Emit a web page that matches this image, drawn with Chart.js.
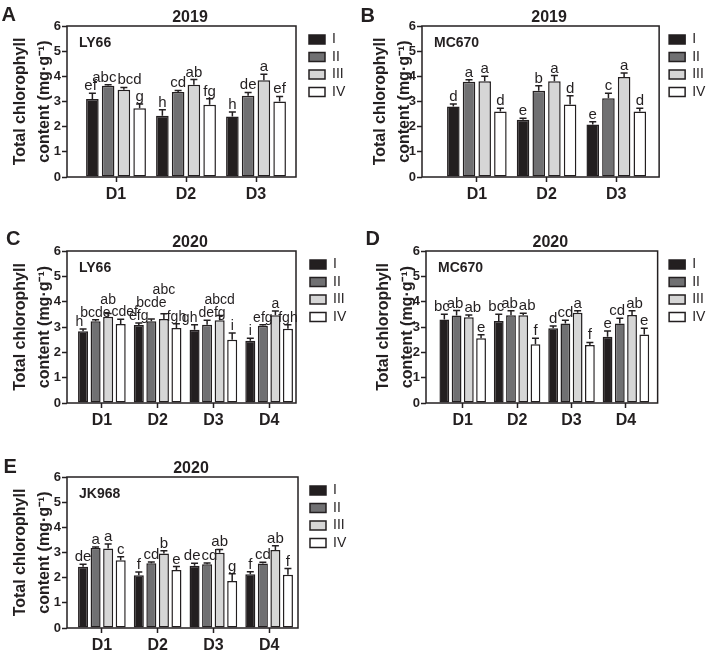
<!DOCTYPE html>
<html>
<head>
<meta charset="utf-8">
<script src="https://cdn.jsdelivr.net/npm/chart.js@4.4.1/dist/chart.umd.min.js"></script>
<style>
  body { margin: 0; background: #fff; }
  #figure { position: relative; width: 710px; height: 658px; font-family: "Liberation Sans", Arial, sans-serif; }
  #figure canvas { position: absolute; }
  .tag { position: absolute; font-weight: bold; font-size: 20px; line-height: 20px; color: #231f20; }
</style>
</head>
<body>
<div id="figure">
  <canvas id="chartA" width="355" height="207" style="left:0;top:0"></canvas>
  <canvas id="chartB" width="355" height="207" style="left:355px;top:0"></canvas>
  <canvas id="chartC" width="355" height="218" style="left:0;top:215px"></canvas>
  <canvas id="chartD" width="355" height="218" style="left:355px;top:215px"></canvas>
  <canvas id="chartE" width="355" height="228" style="left:0;top:430px"></canvas>
  <div class="tag" style="left:1.5px;top:3.5px">A</div>
  <div class="tag" style="left:360.5px;top:4.5px">B</div>
  <div class="tag" style="left:6px;top:227.5px">C</div>
  <div class="tag" style="left:365.5px;top:227.5px">D</div>
  <div class="tag" style="left:3.5px;top:455.5px">E</div>
</div>
<script>
const seriesNames = ['I', 'II', 'III', 'IV'];
const groups2019 = ['D1', 'D2', 'D3'];
const groups2020 = ['D1', 'D2', 'D3', 'D4'];

// A: LY66, 2019  (rows = I, II, III, IV)
const meanA = [[3.10, 2.43, 2.40], [3.63, 3.38, 3.23], [3.47, 3.67, 3.84], [2.73, 2.87, 3.00]];
const sdA = [[0.23, 0.24, 0.18], [0.04, 0.06, 0.13], [0.09, 0.20, 0.24], [0.17, 0.24, 0.20]];
const letterA = [['ef', 'h', 'h'], ['abc', 'cd', 'de'], ['bcd', 'ab', 'a'], ['g', 'fg', 'ef']];

// B: MC670, 2019
const meanB = [[2.80, 2.27, 2.09], [3.78, 3.43, 3.13], [3.80, 3.80, 3.97], [2.60, 2.88, 2.60]];
const sdB = [[0.10, 0.06, 0.11], [0.08, 0.20, 0.20], [0.20, 0.23, 0.16], [0.13, 0.35, 0.13]];
const letterB = [['d', 'e', 'e'], ['a', 'b', 'c'], ['a', 'a', 'a'], ['d', 'd', 'd']];

// C: LY66, 2020
const meanC = [[2.83, 3.08, 2.89, 2.46], [3.23, 3.23, 3.09, 3.05], [3.40, 3.32, 3.27, 3.46], [3.12, 2.96, 2.50, 2.93]];
const sdC = [[0.09, 0.08, 0.20, 0.10], [0.06, 0.09, 0.18, 0.04], [0.13, 0.20, 0.18, 0.17], [0.19, 0.17, 0.26, 0.16]];
const letterC = [['h', 'efg', 'gh', 'i'], ['bcde', 'bcde', 'defg', 'efg'], ['ab', 'abc', 'abcd', 'a'], ['cdef', 'fgh', 'i', 'fgh']];

// D: MC670, 2020
const meanD = [[3.30, 3.24, 2.95, 2.62], [3.45, 3.46, 3.14, 3.14], [3.38, 3.46, 3.56, 3.47], [2.56, 2.32, 2.29, 2.70]];
const sdD = [[0.20, 0.26, 0.09, 0.22], [0.20, 0.18, 0.13, 0.21], [0.09, 0.08, 0.08, 0.17], [0.13, 0.24, 0.10, 0.25]];
const letterD = [['bc', 'bc', 'd', 'e'], ['ab', 'ab', 'cd', 'cd'], ['ab', 'ab', 'a', 'ab'], ['e', 'f', 'f', 'e']];

// E: JK968, 2020
const meanE = [[2.43, 2.10, 2.47, 2.14], [3.18, 2.57, 2.53, 2.56], [3.16, 2.96, 2.99, 3.10], [2.69, 2.30, 1.87, 2.12]];
const sdE = [[0.10, 0.13, 0.10, 0.10], [0.04, 0.05, 0.05, 0.05], [0.18, 0.11, 0.13, 0.17], [0.14, 0.14, 0.29, 0.24]];
const letterE = [['de', 'f', 'de', 'f'], ['a', 'cd', 'cd', 'cd'], ['a', 'b', 'ab', 'ab'], ['c', 'e', 'g', 'f']];

const INK = '#231f20';
const FILLS = ['#231f20', '#707072', '#d6d6d6', '#ffffff'];

Chart.defaults.font.family = '"Liberation Sans", Arial, sans-serif';

// GraphPad leaves uneven space at the ends of the category axis
const categoryInset = {
    id: 'categoryInset',
    afterLayout(chart, args, opts) {
        const x = chart.scales.x;
        x._startPixel = x.left + opts.left;
        x._endPixel = x.right + opts.right;
        x._length = x._endPixel - x._startPixel;
    }
};

function overlapX(p, q) {
    return Math.min(p.x + p.w / 2, q.x + q.w / 2) - Math.max(p.x - p.w / 2, q.x - q.w / 2);
}
function overlapY(p, q) {
    return Math.min(p.base + p.desc, q.base + q.desc) - Math.max(p.base - p.asc, q.base - q.asc);
}

// upper error bars plus significance letters
const errorBars = {
    id: 'errorBars',
    afterDatasetsDraw(chart, args, opts) {
        const { ctx } = chart;
        const y = chart.scales.y;
        const datasets = chart.data.datasets;
        ctx.save();
        ctx.strokeStyle = INK;
        ctx.fillStyle = INK;
        ctx.lineWidth = 1.5;
        ctx.font = opts.letterSize + 'px "Liberation Sans"';
        ctx.textAlign = 'center';
        ctx.textBaseline = 'alphabetic';

        const nGroups = chart.data.labels.length;
        for (let j = 0; j < nGroups; j++) {
            const placed = [];
            datasets.forEach((ds, i) => {
                const bar = chart.getDatasetMeta(i).data[j];
                const top = y.getPixelForValue(ds.data[j] + ds.sd[j]);
                ctx.beginPath();
                ctx.moveTo(bar.x, bar.y);
                ctx.lineTo(bar.x, top);
                ctx.moveTo(bar.x - 3.5, top);
                ctx.lineTo(bar.x + 3.5, top);
                ctx.stroke();

                // keep neighbouring letters from sitting on each other
                const m = ctx.measureText(ds.letters[j]);
                const lab = { text: ds.letters[j], x: bar.x, w: m.width, asc: m.actualBoundingBoxAscent, desc: m.actualBoundingBoxDescent, base: top - 3 };
                for (let k = 0; k < 6; k++) {
                    const hit = placed.find(p => overlapX(p, lab) > 1 && overlapY(p, lab) > 1);
                    if (!hit) break;
                    const ox = overlapX(hit, lab);
                    if (ox <= 12) {
                        const shift = ox / 2 + 0.5;
                        hit.x -= shift;
                        lab.x += shift;
                    } else {
                        lab.base = hit.base - hit.asc - 2 - lab.desc;
                    }
                }
                placed.push(lab);
            });
            placed.forEach(p => ctx.fillText(p.text, p.x, p.base));
        }
        ctx.restore();
    }
};

const frameBox = {
    id: 'frameBox',
    afterDraw(chart) {
        const { ctx, chartArea: a } = chart;
        ctx.save();
        ctx.strokeStyle = INK;
        ctx.lineWidth = 1.5;
        ctx.strokeRect(a.left, a.top, a.right - a.left, a.bottom - a.top);
        ctx.restore();
    }
};

const panelText = {
    id: 'panelText',
    afterDraw(chart, args, opts) {
        const { ctx, chartArea: a } = chart;
        ctx.save();
        ctx.fillStyle = INK;
        ctx.textBaseline = 'alphabetic';
        ctx.font = 'bold 16px "Liberation Sans"';
        ctx.textAlign = 'center';
        ctx.fillText(opts.year, (a.left + a.right) / 2 + 8.5, a.top - 4.5);
        ctx.font = 'bold 14px "Liberation Sans"';
        ctx.textAlign = 'left';
        ctx.fillText(opts.cultivar, a.left + 12, a.top + 20.5);
        ctx.restore();
    }
};

function renderPanel(canvasId, groups, means, sds, letters, year, cultivar, frame) {
    const ctx = document.getElementById(canvasId).getContext('2d');
    return new Chart(ctx, {
        type: 'bar',
        data: {
            labels: groups,
            datasets: seriesNames.map((name, i) => ({
                label: name,
                data: means[i],
                sd: sds[i],
                letters: letters[i],
                yAxisID: 'y',
                backgroundColor: FILLS[i],
                borderColor: INK,
                borderWidth: 1.5,
                borderSkipped: false,
                categoryPercentage: 0.9,
                barPercentage: 0.8
            }))
        },
        options: {
            responsive: false,
            animation: false,
            devicePixelRatio: 1,
            layout: { padding: { left: 0, top: frame.top, right: 0, bottom: 0 } },
            plugins: {
                legend: {
                    position: 'right',
                    align: 'start',
                    title: { display: true, text: '', padding: 0, font: { size: 2.5 } },
                    labels: { boxWidth: 16, boxHeight: 9, padding: 3.5, color: INK, font: { size: 14 } }
                },
                tooltip: { enabled: false },
                categoryInset: { left: frame.insetL, right: frame.insetR },
                errorBars: { letterSize: frame.letterSize || 15 },
                panelText: { year: year, cultivar: cultivar }
            },
            scales: {
                x: {
                    offset: true,
                    grid: { offset: false, drawOnChartArea: false, tickLength: 5, tickWidth: 1.5, tickColor: INK },
                    border: { display: false },
                    ticks: { padding: 3, color: INK, font: { size: 16, weight: 'bold' } },
                    afterFit: (s) => { s.height = 30; }
                },
                y: {
                    min: 0,
                    max: 6,
                    ticks: { stepSize: 1, padding: 1, color: INK, font: { size: 13, weight: 'bold' } },
                    grid: { drawOnChartArea: false, tickLength: 5, tickWidth: 1.5, tickColor: INK },
                    border: { display: false },
                    title: {
                        display: true,
                        text: ['Total chlorophyll', 'content (mg·g⁻¹)'],
                        color: INK,
                        font: { size: 16, weight: 'bold', lineHeight: 1.5 },
                        padding: { top: frame.titlePad, bottom: 0 }
                    },
                    afterFit: (s) => { s.width = frame.yWidth; }
                },
                // spacer between plot frame and legend
                gap: {
                    type: 'linear',
                    position: 'right',
                    grid: { display: false },
                    ticks: { display: false },
                    border: { display: false },
                    afterFit: (s) => { s.width = frame.gap; }
                },
                // spacer outside the legend, takes whatever is left
                edge: {
                    type: 'linear',
                    position: 'right',
                    weight: 2000,
                    grid: { display: false },
                    ticks: { display: false },
                    border: { display: false },
                    afterFit: (s) => {
                        const lw = (s.chart.legend && s.chart.legend.width) || 50;
                        s.width = Math.max(0, s.chart.width - frame.right - frame.gap - lw);
                    }
                }
            }
        },
        plugins: [categoryInset, errorBars, frameBox, panelText]
    });
}

renderPanel('chartA', groups2019, meanA, sdA, letterA, '2019', 'LY66',
    { top: 26, right: 296, gap: 9.5, yWidth: 67, titlePad: 9, insetL: 14, insetR: -5 });
renderPanel('chartB', groups2019, meanB, sdB, letterB, '2019', 'MC670',
    { top: 26, right: 305, gap: 6.5, yWidth: 67, titlePad: 13.8, insetL: 20, insetR: -8 });
renderPanel('chartC', groups2020, meanC, sdC, letterC, '2020', 'LY66',
    { top: 36, right: 296, gap: 10.5, yWidth: 67, titlePad: 9, insetL: 7, insetR: 1, letterSize: 14 });
renderPanel('chartD', groups2020, meanD, sdD, letterD, '2020', 'MC670',
    { top: 36, right: 305, gap: 8, yWidth: 71, titlePad: 17, insetL: 9.5, insetR: -4.5 });
renderPanel('chartE', groups2020, meanE, sdE, letterE, '2020', 'JK968',
    { top: 47, right: 298, gap: 8.5, yWidth: 67, titlePad: 9, insetL: 7, insetR: -1 });
</script>
</body>
</html>
